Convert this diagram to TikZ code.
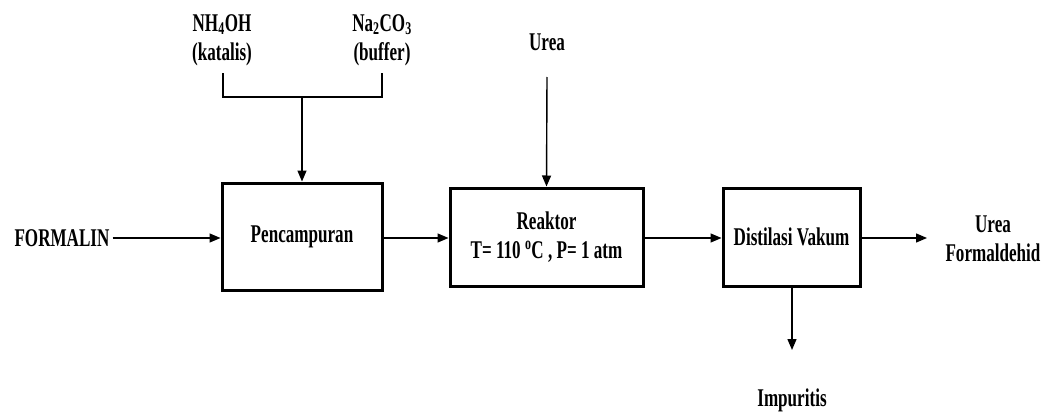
\documentclass[tikz,border=0pt]{standalone}
\usepackage{fontspec}
\setmainfont{Liberation Serif}[FakeStretch=0.67]
\usetikzlibrary{arrows.meta}
\begin{document}
\begin{tikzpicture}[x=1pt,y=-1pt,
  lbl/.style={font=\fontsize{25.5}{29}\selectfont\bfseries, align=center, inner sep=0pt},
  proc/.style={draw, line width=3pt, lbl},
  arr/.style={line width=1.4pt, -{Triangle[length=11pt,width=9pt]}},
  ln/.style={line width=1.4pt}]
\useasboundingbox (0,0) rectangle (1046,412);
% boxes
\node[proc, minimum width=160pt, minimum height=107pt] (b1) at (302,236.5) {Pencampuran};
\node[proc, minimum width=193pt, minimum height=98pt] (b2) at (546.5,237) {Reaktor\\T= 110 \textsuperscript{o}C , P= 1 atm};
\node[proc, minimum width=137pt, minimum height=98pt] (b3) at (791.5,237) {Distilasi Vakum};
% labels
\node[lbl] (formalin) at (62,238) {FORMALIN};
\node[lbl] (nh) at (222,40) {NH\textsubscript{4}OH\\(katalis)};
\node[lbl] (na) at (382,40) {Na\textsubscript{2}CO\textsubscript{3}\\(buffer)};
\node[lbl] (urea) at (547,42) {Urea};
\node[lbl] (uf) at (993,239) {Urea\\Formaldehid};
\node[lbl] (imp) at (792,400) {Impuritis};
% coordinates
\coordinate (j1) at (223,73);
\coordinate (j2) at (382,73);
\coordinate (jm) at (302,97);
\coordinate (ut) at (547,77);
\coordinate (uo) at (927,238);
\coordinate (io) at (792,350);
% connectors
\draw[ln] (j1) |- (jm) -| (j2);
\draw[arr] (jm) -- (b1.north);
\draw[arr] (ut) -- (b2.north);
\draw[arr] (formalin.east) ++(3,0) -- (b1.west |- formalin.east);
\draw[arr] (b1.east |- 0,238) -- (b2.west |- 0,238);
\draw[arr] (b2.east |- 0,238) -- (b3.west |- 0,238);
\draw[arr] (b3.east |- uo) -- (uo);
\draw[arr] (b3.south -| io) -- (io);
\end{tikzpicture}
\end{document}
